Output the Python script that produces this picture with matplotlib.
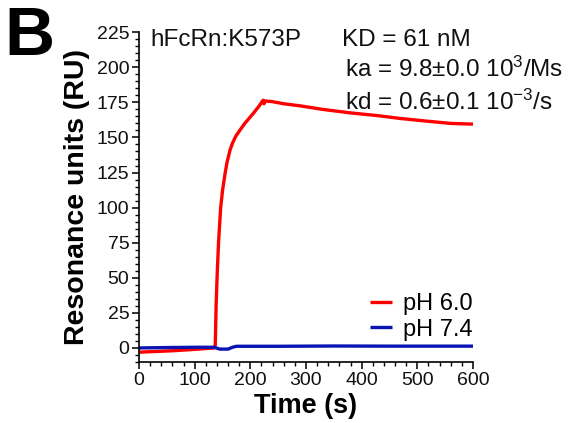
import matplotlib
matplotlib.use("Agg")
import matplotlib.pyplot as plt
from matplotlib.ticker import MultipleLocator

plt.rcParams['font.family'] = ['Liberation Sans', 'DejaVu Sans']
plt.rcParams['mathtext.fontset'] = 'custom'
plt.rcParams['mathtext.rm'] = 'Liberation Sans'
plt.rcParams['mathtext.it'] = 'Liberation Sans:italic'
plt.rcParams['mathtext.bf'] = 'Liberation Sans:bold'

# pH 6.0 sensorgram (red)
t_ph60 = [0, 30, 60, 100, 135, 137, 138.5, 140.5, 143, 146.7, 150, 154.5, 158, 163.5, 168, 174, 181,
          190, 205, 215, 223, 224.5, 226, 240, 260, 290, 330, 380, 430, 470, 520, 560, 600]
y_ph60 = [-3, -2.5, -2, -1, 0, 2, 30, 53, 76, 100, 112, 124, 132, 141, 146, 151, 155,
          160, 167, 172, 176.5, 174, 176, 175.5, 174, 172.5, 170, 167.5, 165.5, 163.5, 161.5, 160, 159.5]

# pH 7.4 sensorgram (blue)
t_ph74 = [0, 50, 100, 135, 145, 160, 168, 175, 250, 350, 450, 550, 600]
y_ph74 = [0, 0.3, 0.5, 0.5, -0.8, -0.8, 0.5, 1.2, 1.2, 1.4, 1.3, 1.3, 1.3]

x_ticks = [0, 100, 200, 300, 400, 500, 600]
y_ticks = [0, 25, 50, 75, 100, 125, 150, 175, 200, 225]

W, H = 573, 423
fig = plt.figure(figsize=(W / 100, H / 100), dpi=100)
ax = fig.add_axes([139 / W, 1 - 362 / H, (473 - 139) / W, (362 - 32.2) / H])

ax.plot(t_ph60, y_ph60, color='#ff0000', lw=2.4, label='pH 6.0', solid_capstyle='butt')
ax.plot(t_ph74, y_ph74, color='#0a14b4', lw=2.4, label='pH 7.4', solid_capstyle='butt')

ax.set_xlim(0, 600)
ax.set_ylim(-10, 225)
ax.set_xticks(x_ticks)
ax.set_yticks(y_ticks)
ax.xaxis.set_minor_locator(MultipleLocator(20))
ax.yaxis.set_minor_locator(MultipleLocator(5))
for s in ['top', 'right']:
    ax.spines[s].set_visible(False)
for s in ['left', 'bottom']:
    ax.spines[s].set_linewidth(1.2)
ax.tick_params(which='major', direction='out', length=5, width=1.2, labelsize=14, pad=2, colors='#111111')
ax.tick_params(which='minor', direction='out', length=3, width=1.0)

ax.set_xlabel('Time (s)', fontsize=19.5, fontweight='bold', labelpad=3)
ax.set_ylabel('Resonance units (RU)', fontsize=20.5, fontweight='bold', labelpad=5)

leg = ax.legend(loc='lower left', bbox_to_anchor=((370 - 139) / 334, 0.065), frameon=False, fontsize=17,
                handlelength=0.95, handletextpad=0.45, labelspacing=0.15, borderaxespad=0, borderpad=0)

fig.text(4 / W, 1 - 55 / H, 'B', fontsize=50, fontweight='bold', va='baseline', ha='left')
fs = 17.5
fig.text(150 / W, 1 - 45.5 / H, 'hFcRn:K573P', fontsize=fs, va='baseline', ha='left', color='#111111')
fig.text(341.5 / W, 1 - 46.5 / H, 'KD = 61 nM', fontsize=fs, va='baseline', ha='left', color='#111111')
fig.text(345 / W, 1 - 76.5 / H, 'ka = 9.8\u00b10.0 10$^{3}$/Ms', fontsize=fs, va='baseline', ha='left', color='#111111')
fig.text(345 / W, 1 - 110 / H, 'kd = 0.6\u00b10.1 10$^{-3}$/s', fontsize=fs, va='baseline', ha='left', color='#111111')

fig.savefig('out.png', dpi=100)
